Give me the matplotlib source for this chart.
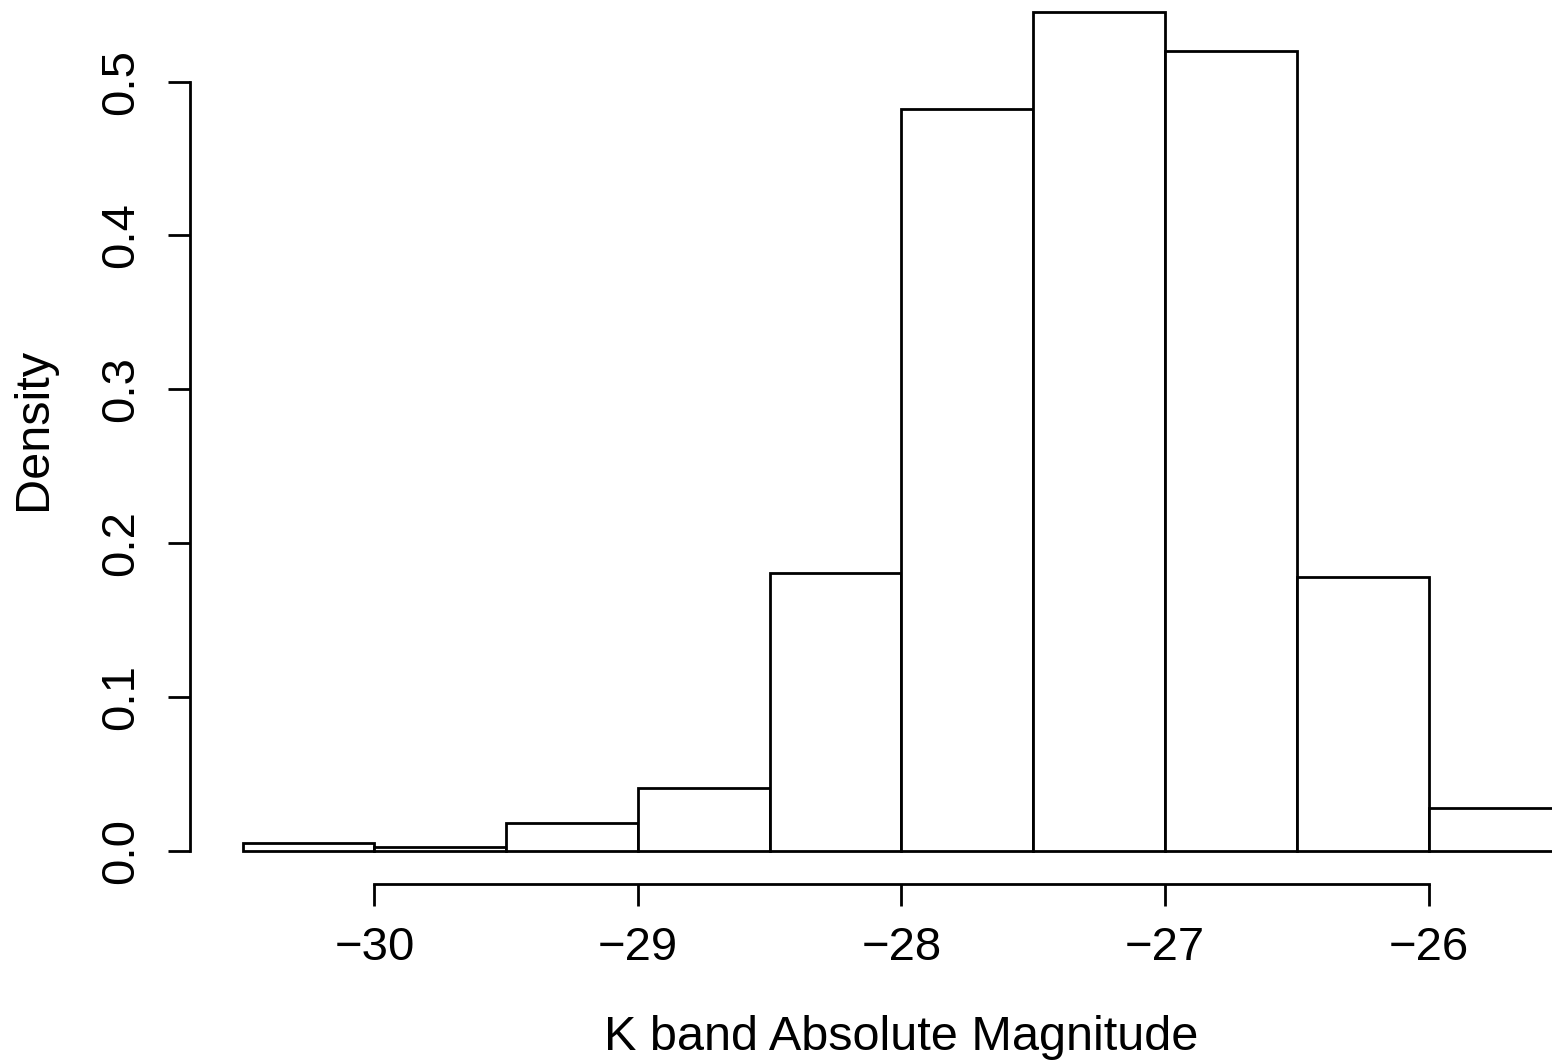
import matplotlib
matplotlib.use("Agg")
import matplotlib.pyplot as plt
import numpy as np

plt.rcParams['font.family'] = ['Liberation Sans', 'DejaVu Sans']

# histogram bins (K band absolute magnitude) and densities
bin_edges = [-30.5, -30.0, -29.5, -29.0, -28.5, -28.0, -27.5, -27.0, -26.5, -26.0, -25.5]
density = [0.0051, 0.0025, 0.0180, 0.0404, 0.1803, 0.4823, 0.5455, 0.5200, 0.1777, 0.0277]
x_ticks = [-30, -29, -28, -27, -26]
y_ticks = [0.0, 0.1, 0.2, 0.3, 0.4, 0.5]

W, H = 1552, 1060
fig = plt.figure(figsize=(W / 100, H / 100), dpi=100)
# plot region in pixels (R-like, cropped on top/right)
left_px, right_px, top_px, bot_px = 190, 1613, -22, 884
ax = fig.add_axes([left_px / W, (H - bot_px) / H,
                   (right_px - left_px) / W, (bot_px - top_px) / H])

edges = np.array(bin_edges)
ax.bar(edges[:-1], density, width=np.diff(edges), align="edge",
       facecolor="white", edgecolor="black", linewidth=2)

ax.set_xlim(-30.7, -25.3)
ax.set_ylim(-0.02177, 0.5673)

for s in ["top", "right"]:
    ax.spines[s].set_visible(False)
ax.spines["left"].set_bounds(0, 0.5)
ax.spines["bottom"].set_bounds(-30, -26)
ax.spines["left"].set_linewidth(2)
ax.spines["bottom"].set_linewidth(2)

fs = 34
ax.set_xticks(x_ticks)
ax.set_xticklabels([f"\u2212{abs(v)}" for v in x_ticks], fontsize=fs)
ax.set_yticks(y_ticks)
ax.set_yticklabels([f"{v:.1f}" for v in y_ticks], fontsize=fs,
                   rotation=90, va="center")
ax.tick_params(axis="both", direction="out", length=16, width=2)
ax.tick_params(axis="x", pad=14)
ax.tick_params(axis="y", pad=18)

fig.text(901 / W, 1 - 1050 / H, "K band Absolute Magnitude", fontsize=35,
         ha="center", va="baseline")
fig.text(34 / W, 1 - 429 / H, "Density", fontsize=35, rotation=90,
         ha="center", va="center")

fig.savefig("out.png", dpi=100)
